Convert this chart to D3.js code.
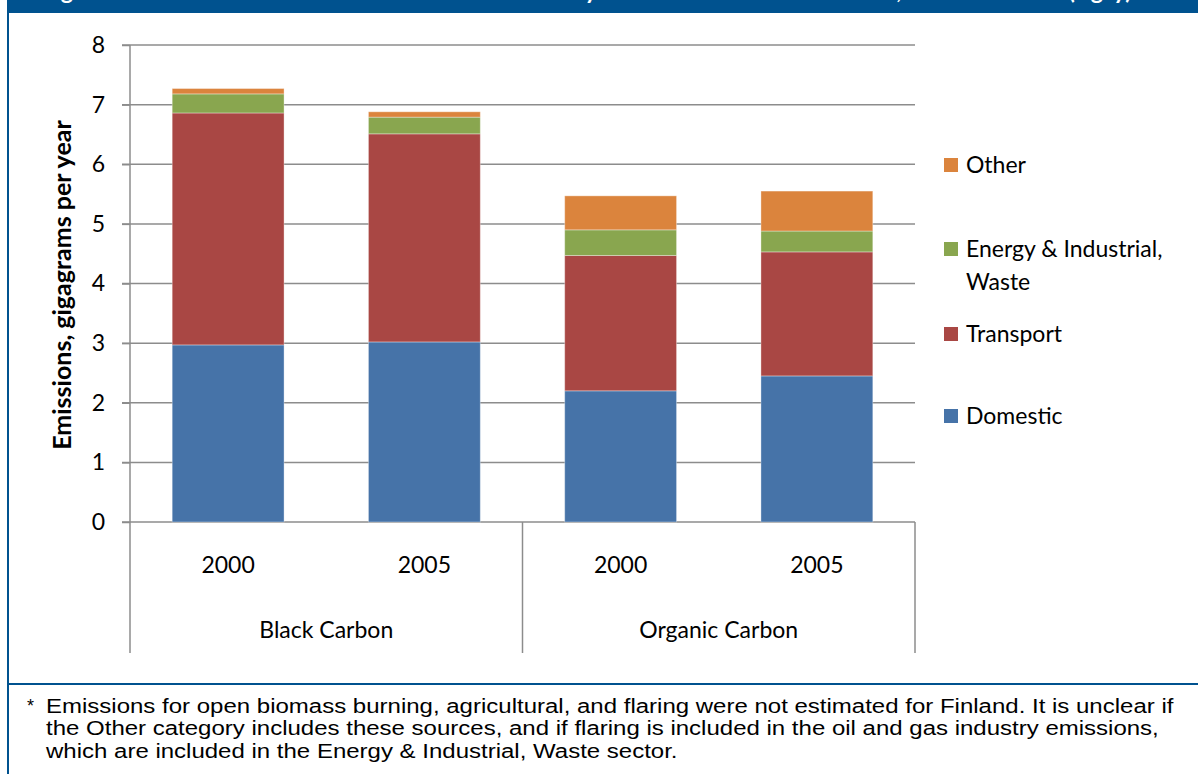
<!DOCTYPE html>
<html>
<head>
<meta charset="utf-8">
<script src="https://cdn.jsdelivr.net/npm/d3@7"></script>
<style>
  html, body { margin: 0; padding: 0; background: #ffffff; }
  svg { display: block; }
</style>
</head>
<body>
<svg id="chart" width="1198" height="774"></svg>
<script>
// Finland black carbon / organic carbon emissions by sector (Gg per year)
const groups = ["Black Carbon", "Organic Carbon"];
const years = ["2000", "2005"];
const sectors = ["Domestic", "Transport", "Energy & Industrial, Waste", "Other"];
const domestic  = [2.97, 3.02, 2.20, 2.45];
const transport = [3.89, 3.49, 2.27, 2.08];
const energy    = [0.32, 0.28, 0.43, 0.35];
const other     = [0.09, 0.09, 0.57, 0.67];
const yTicks = [0, 1, 2, 3, 4, 5, 6, 7, 8];
const legendOrder = ["Other", "Energy & Industrial, Waste", "Transport", "Domestic"];
const titleText = "Figure 4. Black Carbon and OC Emissions in Finland by Main Emission Source Sector, 2000 and 2005 (Gg/y)";
const footnoteLines = [
  "Emissions for open biomass burning, agricultural, and flaring were not estimated for Finland. It is unclear if",
  "the Other category includes these sources, and if flaring is included in the oil and gas industry emissions,",
  "which are included in the Energy & Industrial, Waste sector."
];

const colors = {
  "Domestic": "#4673a8",
  "Transport": "#a94744",
  "Energy & Industrial, Waste": "#89a64f",
  "Other": "#db843d"
};

const svg = d3.select("#chart");
const FONT = "Lato, 'Open Sans', sans-serif";
const BLUE = "#00528f";
const GRID = "#8c8c8c";

// one row per bar (group x year)
const rows = [];
groups.forEach((g, gi) => years.forEach((yr, yi) => {
  const i = gi * years.length + yi;
  rows.push({
    key: g + "|" + yr, group: g, year: yr,
    "Domestic": domestic[i], "Transport": transport[i],
    "Energy & Industrial, Waste": energy[i], "Other": other[i]
  });
}));

const plotLeft = 130, plotRight = 915, plotTop = 45, plotBottom = 522;

const x = d3.scaleBand()
  .domain(rows.map(r => r.key))
  .range([plotLeft, plotRight])
  .paddingInner(0.43)
  .paddingOuter(0.215);

const y = d3.scaleLinear().domain([0, 8]).range([plotBottom, plotTop]);

// frame: header bar, left rule, footnote separator
svg.append("rect").attr("x", 7).attr("y", 0).attr("width", 1191).attr("height", 13).attr("fill", BLUE);
svg.append("rect").attr("x", 7).attr("y", 0).attr("width", 2).attr("height", 774).attr("fill", BLUE);
svg.append("rect").attr("x", 7).attr("y", 683).attr("width", 1191).attr("height", 2).attr("fill", BLUE);

svg.append("text")
  .attr("x", 42).attr("y", -1)
  .attr("fill", "#ffffff")
  .style("font-family", FONT).style("font-weight", "bold").style("font-size", "23px")
  .text(titleText);

// gridlines
svg.append("g").selectAll("line").data(yTicks).join("line")
  .attr("x1", plotLeft - 8).attr("x2", plotRight)
  .attr("y1", d => y(d)).attr("y2", d => y(d))
  .attr("stroke", GRID).attr("stroke-width", 1.5);

// stacked bars
const series = d3.stack().keys(sectors)(rows);
svg.append("g").selectAll("g").data(series).join("g")
  .attr("fill", s => colors[s.key])
  .selectAll("rect").data(s => s).join("rect")
  .attr("x", d => x(d.data.key))
  .attr("width", x.bandwidth())
  .attr("y", d => y(d[1]))
  .attr("height", d => y(d[0]) - y(d[1]))
  .attr("stroke", "rgba(255,255,255,0.35)")
  .attr("stroke-width", 1);

// y axis
const yAxis = svg.append("g")
  .attr("transform", `translate(${plotLeft},0)`)
  .call(d3.axisLeft(y).tickValues(yTicks).tickSize(8).tickPadding(17).tickFormat(d3.format("d")));
yAxis.select(".domain").remove();
yAxis.selectAll(".tick line").attr("stroke", GRID).attr("stroke-width", 1.5);
yAxis.selectAll(".tick text")
  .attr("fill", "#000").style("font-family", FONT).style("font-size", "23px");

// vertical axis line and category separators
const sepBottom = 653;
svg.append("line").attr("x1", plotLeft).attr("x2", plotLeft)
  .attr("y1", plotTop).attr("y2", sepBottom)
  .attr("stroke", GRID).attr("stroke-width", 1.5);
const boundaries = groups.map((g, gi) => {
  const lastKey = g + "|" + years[years.length - 1];
  return gi < groups.length - 1
    ? (x(lastKey) + x.bandwidth() + x(groups[gi + 1] + "|" + years[0])) / 2
    : plotRight;
});
svg.append("g").selectAll("line").data(boundaries).join("line")
  .attr("x1", d => d).attr("x2", d => d)
  .attr("y1", plotBottom).attr("y2", sepBottom)
  .attr("stroke", GRID).attr("stroke-width", 1.5);

// year labels
svg.append("g").selectAll("text").data(rows).join("text")
  .attr("x", d => x(d.key) + x.bandwidth() / 2)
  .attr("y", 565)
  .attr("dy", "0.35em")
  .attr("text-anchor", "middle")
  .style("font-family", FONT).style("font-size", "23px")
  .text(d => d.year);

// group labels
const groupStarts = [plotLeft].concat(boundaries.slice(0, -1));
svg.append("g").selectAll("text").data(groups).join("text")
  .attr("x", (d, i) => (groupStarts[i] + boundaries[i]) / 2)
  .attr("y", 630)
  .attr("dy", "0.35em")
  .attr("text-anchor", "middle")
  .style("font-family", FONT).style("font-size", "23px")
  .text(d => d);

// y axis title
svg.append("text")
  .attr("transform", "translate(62,285) rotate(-90)")
  .attr("text-anchor", "middle")
  .attr("dy", "0.35em")
  .style("font-family", FONT).style("font-weight", "bold").style("font-size", "25px")
  .text("Emissions, gigagrams per year");

// legend
const legendY = { "Other": 165, "Energy & Industrial, Waste": 249, "Transport": 334, "Domestic": 416 };
const legend = svg.append("g");
legendOrder.forEach(k => {
  legend.append("rect")
    .attr("x", 944).attr("y", legendY[k] - 7).attr("width", 14).attr("height", 14)
    .attr("fill", colors[k]);
  const t = legend.append("text")
    .attr("x", 966).attr("y", legendY[k]).attr("dy", "0.35em")
    .style("font-family", FONT).style("font-size", "23px");
  if (k === "Energy & Industrial, Waste") {
    t.append("tspan").attr("x", 966).text("Energy & Industrial,");
    t.append("tspan").attr("x", 966).attr("dy", "1.45em").text("Waste");
  } else {
    t.text(k);
  }
});

// footnote, widened so the first line spans the text column
const foot = svg.append("g").style("font-family", "'Liberation Sans', Arial, sans-serif").style("font-size", "21px");
foot.append("text").attr("x", 27).attr("y", 712).style("font-size", "18px").text("*");
const footBody = foot.append("g");
const footTexts = footBody.selectAll("text").data(footnoteLines).join("text")
  .attr("x", 0)
  .attr("y", (d, i) => 713 + i * 22.5)
  .text(d => d);
const firstWidth = footTexts.node().getComputedTextLength();
const sx = 1128 / firstWidth;
footBody.attr("transform", `translate(46,0) scale(${sx},1)`);
</script>
</body>
</html>
